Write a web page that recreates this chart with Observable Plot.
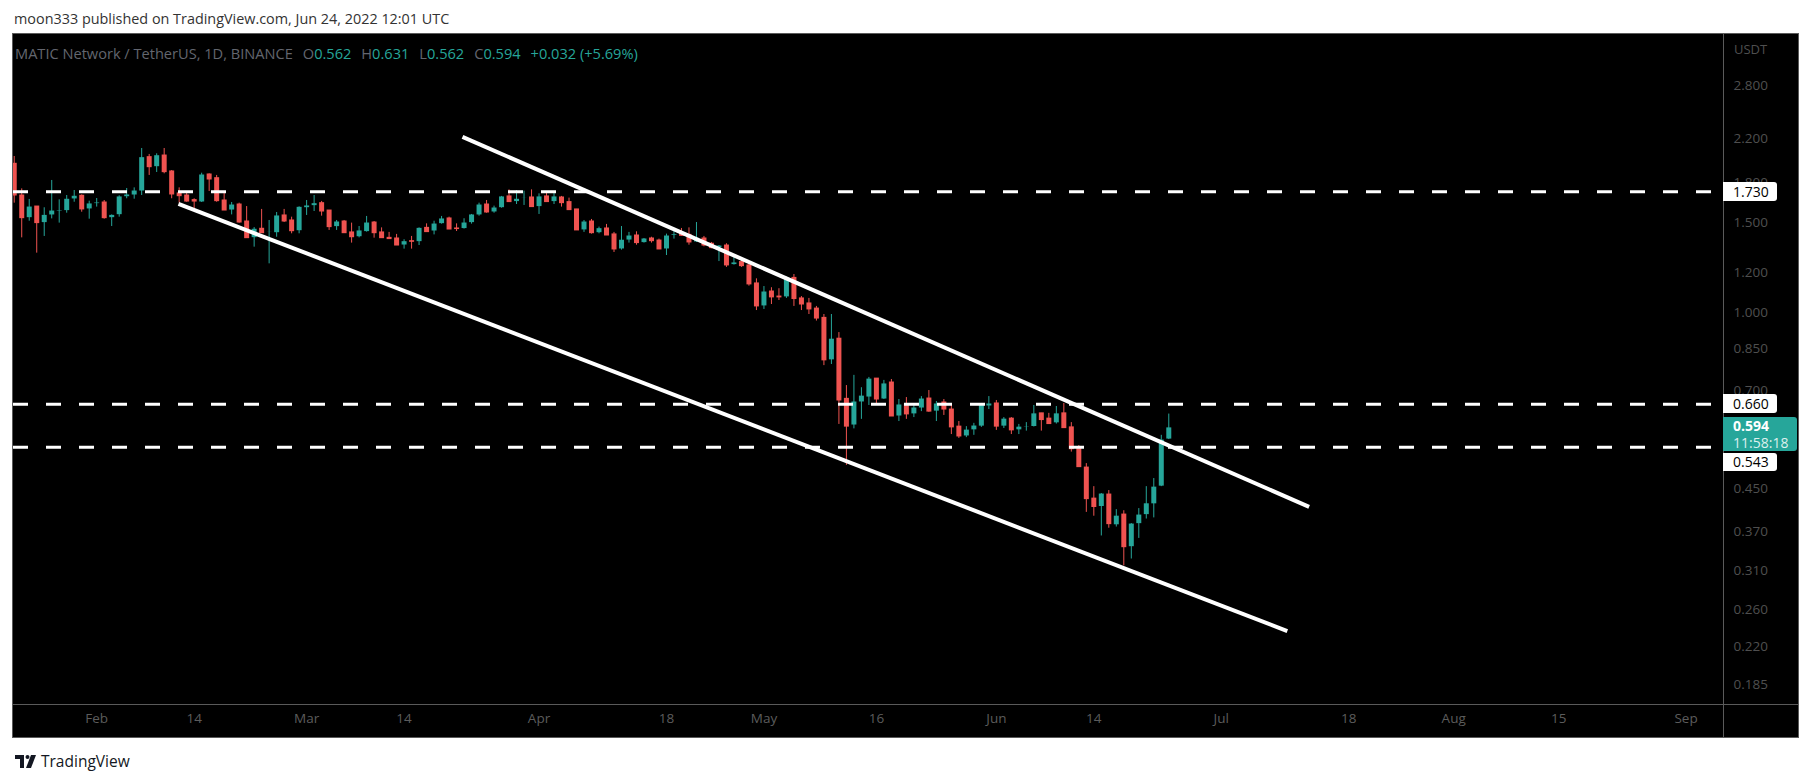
<!DOCTYPE html>
<html>
<head>
<meta charset="utf-8">
<script src="https://cdn.jsdelivr.net/npm/d3@7"></script>
<script src="https://cdn.jsdelivr.net/npm/@observablehq/plot@0.6"></script>
<style>
  html, body { margin: 0; padding: 0; background: #ffffff; }
  body { font-family: "Open Sans", "Liberation Sans", Arial, sans-serif; }
  #wrap { position: relative; width: 1813px; height: 783px; overflow: hidden; background: #fff; }
  .abs { position: absolute; }
  #header { left: 14px; top: 10px; font-size: 14.4px; line-height: 18px; color: #333333; white-space: nowrap; }
  #pane { left: 12px; top: 33px; width: 1787px; height: 705px; background: #000; border: 1px solid #5a5a5a; box-sizing: border-box; }
  #vsep { left: 1723px; top: 33px; width: 1px; height: 705px; background: #5a5a5a; }
  #hsep { left: 12px; top: 704px; width: 1787px; height: 1px; background: #5a5a5a; }
  #plot { left: 0; top: 0; }
  #legend { left: 15px; top: 44px; font-size: 14.6px; line-height: 18px; color: #63666f; white-space: nowrap; }
  #legend .v { color: #26a69a; }
  #legend .g { margin-left: 10px; }
  #unit { left: 1734px; top: 41px; font-size: 13px; line-height: 17px; color: #4f4f4f; }
  .lbl { position: absolute; left: 1723px; background: #fff; color: #000; font-size: 14px; padding-left: 10px; box-sizing: border-box; border-radius: 0 3px 3px 0; }
  .cur { position: absolute; left: 1723px; background: #26a69a; color: #fff; font-size: 14px; line-height: 17px; padding-left: 10px; box-sizing: border-box; border-radius: 0 3px 3px 0; }
  #footer { left: 15px; top: 751px; font-size: 15.5px; line-height: 20px; color: #131722; white-space: nowrap; display: flex; align-items: center; gap: 4px; }
</style>
</head>
<body>
<div id="wrap">
  <div id="header" class="abs">moon333 published on TradingView.com, Jun 24, 2022 12:01 UTC</div>
  <div id="pane" class="abs"></div>
  <div id="vsep" class="abs"></div>
  <div id="hsep" class="abs"></div>
  <div id="plot" class="abs"></div>
  <div id="legend" class="abs">MATIC Network / TetherUS, 1D, BINANCE<span class="g">O</span><span class="v">0.562</span><span class="g">H</span><span class="v">0.631</span><span class="g">L</span><span class="v">0.562</span><span class="g">C</span><span class="v">0.594</span><span class="g v">+0.032 (+5.69%)</span></div>
  <div id="unit" class="abs">USDT</div>
  <div id="footer" class="abs">
    <svg width="22" height="13" viewBox="0 0 22 13"><path d="M0 0h9v13H5V4H0z" fill="#131722"/><circle cx="12.5" cy="2" r="2" fill="#131722"/><path d="M16 0h5l-5 13h-5z" fill="#131722"/></svg>
    <span>TradingView</span>
  </div>
</div>
<script>
// ---- Daily candles, MATIC/USDT (Binance, 1D), first candle 2022-01-21 ----
const firstDay = "2022-01-21";
const open = [
  1.963,1.700,1.534,1.617,1.500,1.553,1.584,1.584,1.670,1.698,1.596,
  1.635,1.647,1.534,1.555,1.687,1.700,1.731,2.023,1.933,2.038,1.896,1.716,1.700,1.665,1.647,1.870,1.839,1.662,1.588,1.632,1.511,1.401,1.462,1.438,1.433,1.553,1.518,1.446,
  1.605,1.620,1.642,1.588,1.473,1.511,1.438,1.407,1.440,1.504,1.438,1.403,1.399,1.355,1.382,1.376,1.468,1.444,1.493,1.532,1.464,1.460,1.500,1.553,1.632,1.574,1.605,1.693,1.650,1.675,1.685,
  1.613,1.693,1.650,1.685,1.650,1.596,1.451,1.511,1.433,1.464,1.425,1.331,1.386,1.418,1.370,1.399,1.386,1.331,1.416,1.427,1.422,1.374,1.399,1.366,1.339,1.355,1.240,1.257,1.238,1.141,
  1.028,1.100,1.075,1.071,1.170,1.066,1.042,1.018,0.976,0.805,0.888,0.676,0.599,0.665,0.680,0.741,0.674,0.728,0.624,0.659,0.630,0.647,0.677,0.638,0.665,0.644,0.596,0.570,0.586,0.596,0.653,
  0.662,0.596,0.618,0.586,0.595,0.595,0.633,0.618,0.605,0.633,0.594,0.540,0.495,0.430,0.414,0.438,0.381,0.400,0.345,0.383,0.399,0.419,0.454,0.562
];
const high = [
  2.029,1.752,1.670,1.617,1.608,1.820,1.667,1.700,1.739,1.705,1.657,
  1.677,1.662,1.557,1.698,1.755,1.760,2.104,2.048,2.054,2.104,1.904,1.760,1.721,1.675,1.881,1.876,1.862,1.718,1.647,1.642,1.617,1.470,1.596,1.518,1.574,1.596,1.541,1.615,
  1.662,1.700,1.655,1.588,1.518,1.518,1.500,1.477,1.546,1.511,1.468,1.438,1.425,1.391,1.412,1.468,1.495,1.513,1.546,1.541,1.495,1.530,1.560,1.642,1.662,1.620,1.693,1.744,1.739,1.734,1.744,
  1.713,1.731,1.718,1.693,1.680,1.596,1.518,1.525,1.473,1.491,1.438,1.477,1.438,1.442,1.399,1.407,1.395,1.427,1.451,1.464,1.468,1.504,1.412,1.374,1.355,1.366,1.295,1.276,1.247,1.165,
  1.125,1.119,1.114,1.175,1.188,1.075,1.066,1.028,0.991,0.991,0.913,0.718,0.752,0.711,0.745,0.741,0.735,0.738,0.674,0.680,0.659,0.683,0.702,0.668,0.674,0.659,0.610,0.596,0.605,0.662,0.683,
  0.671,0.621,0.621,0.602,0.607,0.656,0.633,0.633,0.653,0.662,0.607,0.547,0.504,0.454,0.440,0.446,0.409,0.407,0.384,0.411,0.454,0.471,0.573,0.631
];
const low = [
  1.642,1.403,1.513,1.309,1.412,1.529,1.500,1.569,1.649,1.576,1.527,
  1.613,1.527,1.477,1.541,1.675,1.672,1.700,1.862,1.887,1.876,1.675,1.642,1.649,1.596,1.647,1.731,1.649,1.588,1.557,1.500,1.401,1.345,1.433,1.247,1.407,1.504,1.429,1.429,
  1.553,1.581,1.548,1.451,1.451,1.433,1.370,1.403,1.440,1.401,1.401,1.395,1.355,1.333,1.333,1.355,1.440,1.422,1.493,1.457,1.444,1.460,1.493,1.548,1.569,1.569,1.605,1.650,1.632,1.625,1.613,
  1.560,1.650,1.632,1.613,1.588,1.451,1.438,1.427,1.429,1.418,1.313,1.327,1.370,1.357,1.370,1.370,1.331,1.295,1.395,1.412,1.357,1.374,1.347,1.335,1.260,1.227,1.240,1.227,1.127,1.009,
  1.014,1.037,1.056,1.066,1.028,1.009,0.991,0.962,0.786,0.790,0.602,0.500,0.590,0.616,0.656,0.659,0.674,0.624,0.610,0.616,0.621,0.638,0.636,0.610,0.627,0.575,0.565,0.567,0.573,0.594,0.644,
  0.586,0.591,0.575,0.575,0.584,0.595,0.584,0.603,0.603,0.592,0.531,0.496,0.404,0.397,0.363,0.376,0.378,0.317,0.327,0.359,0.392,0.394,0.454,0.562
];
const close = [
  1.700,1.534,1.617,1.500,1.557,1.588,1.588,1.675,1.698,1.596,1.640,
  1.647,1.534,1.557,1.693,1.708,1.739,2.023,1.933,2.041,1.890,1.708,1.695,1.654,1.654,1.870,1.828,1.657,1.588,1.632,1.504,1.401,1.462,1.433,1.444,1.553,1.511,1.446,1.615,
  1.625,1.642,1.581,1.473,1.511,1.433,1.407,1.451,1.504,1.433,1.401,1.395,1.355,1.382,1.378,1.468,1.440,1.497,1.532,1.457,1.460,1.504,1.560,1.632,1.574,1.610,1.693,1.650,1.675,1.682,1.613,
  1.693,1.650,1.693,1.642,1.591,1.451,1.511,1.433,1.466,1.418,1.331,1.391,1.418,1.370,1.399,1.382,1.331,1.418,1.427,1.416,1.374,1.403,1.355,1.339,1.355,1.238,1.255,1.234,1.136,1.028,
  1.100,1.071,1.071,1.170,1.063,1.037,1.014,0.973,0.805,0.888,0.671,0.596,0.668,0.686,0.741,0.674,0.725,0.624,0.659,0.630,0.650,0.677,0.638,0.662,0.644,0.594,0.570,0.588,0.599,0.659,0.662,
  0.596,0.618,0.586,0.596,0.597,0.633,0.614,0.603,0.633,0.592,0.538,0.496,0.429,0.414,0.440,0.383,0.398,0.345,0.384,0.400,0.421,0.454,0.562,0.594
];

// Horizontal levels (dashed drawings)
const levels = [1.730, 0.660, 0.543];

// Trend-line drawings: [line, time, price]
const trendLines = [
  ["upper", "2022-03-21T18:58Z", 2.218],
  ["upper", "2022-07-12T17:16Z", 0.4143],
  ["lower", "2022-02-11T21:50Z", 1.636],
  ["lower", "2022-07-09T19:26Z", 0.2359]
];

// Axis ticks
const priceTicks = [2.8, 2.2, 1.8, 1.5, 1.2, 1.0, 0.85, 0.7, 0.45, 0.37, 0.31, 0.26, 0.22, 0.185];
const timeTickDates = ["2022-02-01","2022-02-14","2022-03-01","2022-03-14","2022-04-01","2022-04-18","2022-05-01","2022-05-16","2022-06-01","2022-06-14","2022-07-01","2022-07-18","2022-08-01","2022-08-15","2022-09-01"];
const timeTickLabels = ["Feb","14","Mar","14","Apr","18","May","16","Jun","14","Jul","18","Aug","15","Sep"];

// Last price
const lastPrice = 0.594;
const countdown = "11:58:18";

// ---- build ----
const GREEN = "#26a69a", RED = "#ef5350";
const day0 = new Date(firstDay + "T00:00Z");
const candles = open.map((o, i) => ({
  date: d3.utcDay.offset(day0, i),
  open: o, high: high[i], low: low[i], close: close[i],
  color: close[i] >= o ? GREEN : RED
}));
const trend = trendLines.map(([id, t, p]) => ({id, date: new Date(t), price: p}));
const timeTicks = timeTickDates.map((d, i) => ({date: new Date(d + "T00:00Z"), label: timeTickLabels[i]}));
const fmt = d3.format(".3f");

const chart = Plot.plot({
  width: 1813,
  height: 783,
  marginLeft: 13,
  marginRight: 90,
  marginTop: 33,
  marginBottom: 79,
  style: {background: "transparent", overflow: "visible", fontFamily: "'Open Sans', 'Liberation Sans', Arial, sans-serif"},
  x: {type: "utc", domain: [new Date("2022-01-20T21:39Z"), new Date("2022-09-05T23:46Z")], axis: null},
  y: {type: "log", domain: [0.16904, 3.5443], axis: null},
  marks: [
    Plot.ruleX(candles, {x: "date", y1: "low", y2: "high", stroke: "color", strokeWidth: 1, clip: true}),
    Plot.ruleX(candles, {x: "date", y1: "open", y2: "close", stroke: "color", strokeWidth: 5, insetTop: -0.5, insetBottom: -0.5, clip: true}),
    Plot.ruleY(levels, {stroke: "#ffffff", strokeWidth: 3, strokeDasharray: "15,18"}),
    Plot.line(trend, {x: "date", y: "price", z: "id", stroke: "#ffffff", strokeWidth: 4, strokeLinecap: "butt", clip: true}),
    Plot.text(priceTicks, {y: d => d, text: d => fmt(d), frameAnchor: "right", textAnchor: "start", dx: 10, fill: "#4f4f4f", fontSize: 13.5}),
    Plot.text(timeTicks, {x: "date", text: "label", frameAnchor: "bottom", dy: 18, fill: "#5c5c5c", fontSize: 13.5})
  ]
});
document.getElementById("plot").appendChild(chart);

// Price labels on the axis, placed with the chart's own y scale
const ys = chart.scale("y");
const wrap = document.getElementById("wrap");
function addLabel(cls, top, height, width, html) {
  const el = document.createElement("div");
  el.className = cls;
  el.style.top = top + "px";
  el.style.height = height + "px";
  el.style.width = width + "px";
  el.innerHTML = html;
  wrap.appendChild(el);
  return el;
}
addLabel("lbl", ys.apply(levels[0]) - 9.5, 19, 54, fmt(levels[0]));
addLabel("lbl", ys.apply(levels[1]) - 9.5, 19, 54, fmt(levels[1]));
const curTop = ys.apply(lastPrice) - 9.5;
addLabel("cur", curTop, 34, 74, `<div style="font-weight:bold">${fmt(lastPrice)}</div><div style="color:rgba(255,255,255,0.85)">${countdown}</div>`);
addLabel("lbl", curTop + 35.5, 18, 54, fmt(levels[2]));
document.querySelectorAll(".lbl").forEach(e => e.style.lineHeight = e.style.height);
</script>
</body>
</html>
